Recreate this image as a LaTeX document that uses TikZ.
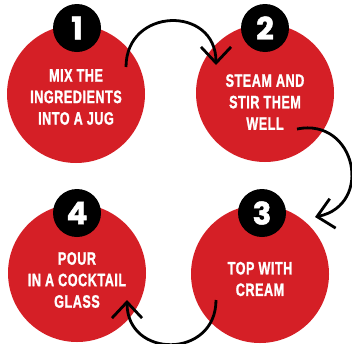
\documentclass[tikz,border=0pt]{standalone}
\usepackage{fontspec}
\setmainfont{Liberation Sans}
\newfontfamily\stepfont[FakeStretch=0.7, LetterSpace=3, BoldFont={Liberation Sans Bold}, BoldFeatures={FakeBold=1.2}]{Liberation Sans}
\newfontfamily\numfont[BoldFeatures={FakeBold=1.5}]{Poppins}
\usetikzlibrary{arrows.meta}
\definecolor{stepred}{HTML}{D51F26}

\begin{document}
\begin{tikzpicture}[x=1pt, y=-1pt,
    disc/.style={circle, fill=stepred, minimum size=138pt, inner sep=0pt},
    badge/.style={circle, fill=black, minimum size=48pt, inner sep=0pt, text=white, font=\numfont\bfseries\fontsize{31}{31}\selectfont},
    steptext/.style={align=center, text=white, font=\stepfont\bfseries\fontsize{18}{21.5}\selectfont},
    flow/.style={-{Straight Barb[length=16pt, width=30pt]}, line width=2.8pt, draw=black}
  ]
  \useasboundingbox (0,0) rectangle (352,343);

  % Step 1
  \node[disc] (c1) at (76,94) {};
  \node[badge] (n1) at (77,28) {1};
  \node[steptext] (t1) at (76,97) {MIX THE\\INGREDIENTS\\INTO A JUG};

  % Step 2
  \node[disc] (c2) at (265,93) {};
  \node[badge] (n2) at (265,28) {2};
  \node[steptext] (t2) at (265,102) {STEAM AND\\STIR THEM\\WELL};

  % Step 3
  \node[disc] (c3) at (260,274) {};
  \node[badge] (n3) at (262,213) {3};
  \node[steptext] (t3) at (260,279) {TOP WITH\\CREAM};

  % Step 4
  \node[disc] (c4) at (77,273) {};
  \node[badge] (n4) at (77,213) {4};
  \node[steptext] (t4) at (77,280) {POUR\\IN A COCKTAIL\\GLASS};

  % Arrow ends
  \coordinate (s1) at (126,67);
  \coordinate (e1) at (216,65);
  \coordinate (s2) at (297,129);
  \coordinate (e2) at (315,217);
  \coordinate (s3) at (216,300);
  \coordinate (e3) at (127,300);

  \draw[flow] (s1) .. controls +(0,-60) and +(0,-60) .. (e1);
  \draw[flow] (s2) .. controls +(59,-12) and +(59,-12) .. (e2);
  \draw[flow] (s3) .. controls +(0,59) and +(0,59) .. (e3);
\end{tikzpicture}
\end{document}
